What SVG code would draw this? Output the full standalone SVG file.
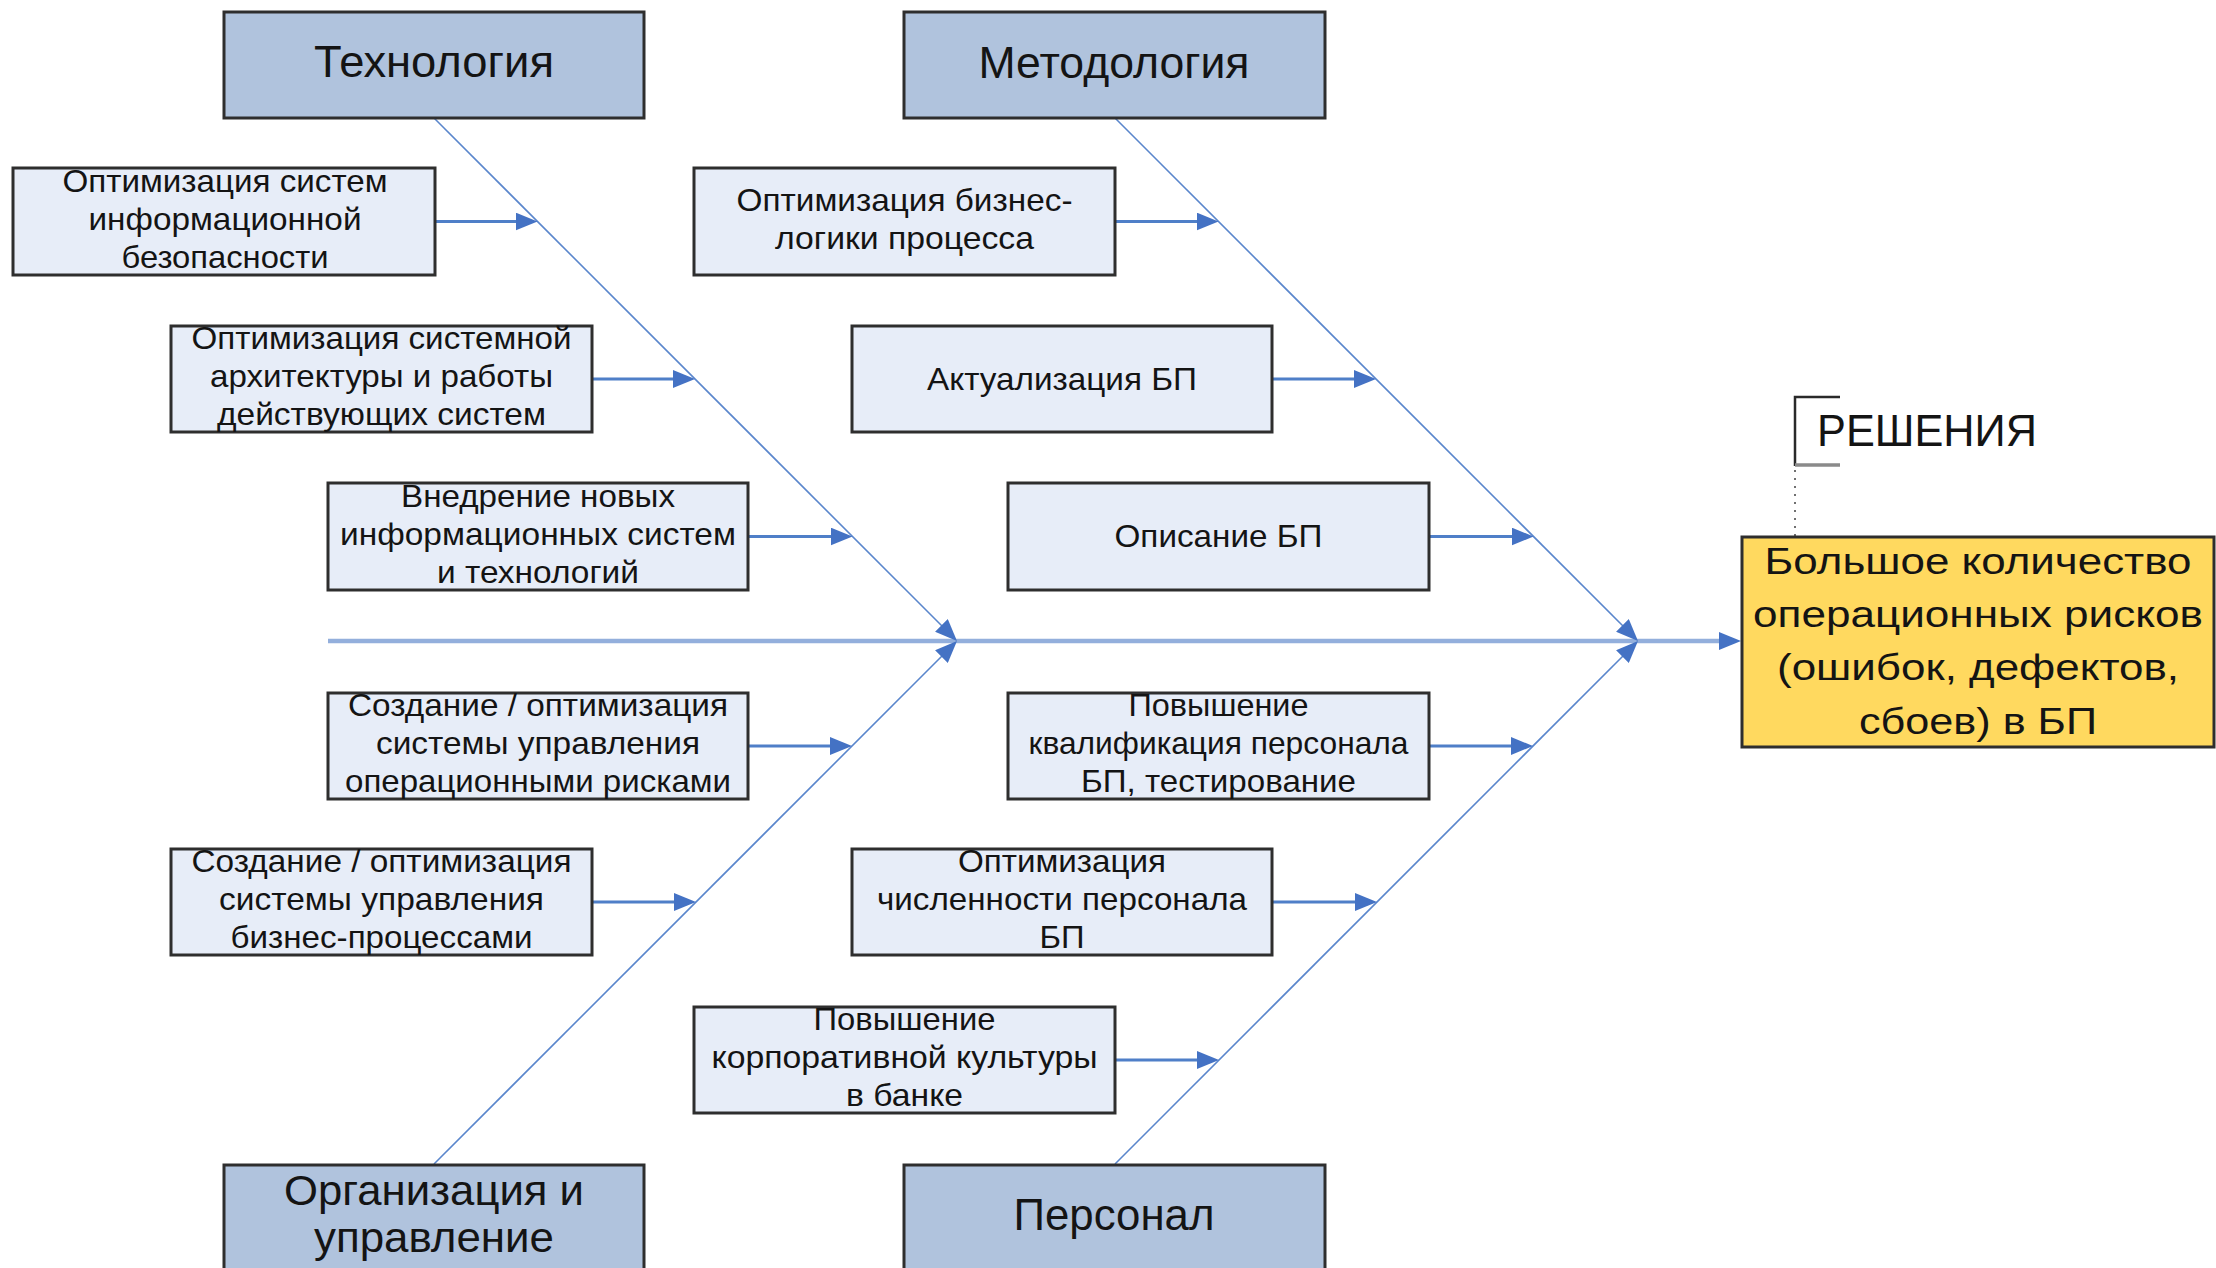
<svg xmlns="http://www.w3.org/2000/svg" width="2216" height="1268" viewBox="0 0 2216 1268">
  <defs>
    <style>
      .hdr { fill: #b0c3dd; stroke: #2e2e2e; stroke-width: 3; }
      .sub { fill: #e7edf8; stroke: #2e2e2e; stroke-width: 3; }
      .res { fill: #ffd95f; stroke: #2e2e2e; stroke-width: 3; }
      text { font-family: "Liberation Sans", Arial, sans-serif; fill: #141414; text-anchor: middle; }
      .h { font-size: 45px; }
      .s { font-size: 32px; }
      .y { font-size: 37px; }
      .bone { stroke: #5a86cc; stroke-width: 1.6; fill: none; }
      .branch { stroke: #4f7fc8; stroke-width: 3; fill: none; }
      .spine { stroke: #93afdc; stroke-width: 4.5; fill: none; }
    </style>
    <marker id="ah" viewBox="0 0 22 18" refX="10" refY="9" markerWidth="22" markerHeight="18" markerUnits="userSpaceOnUse" orient="auto">
      <path d="M0,0 L22,9 L0,18 z" fill="#4472c4"/>
    </marker>
  </defs>

  <!-- connectors: spine, diagonal bones and branch arrows -->
  <g id="connectors">
    <line class="spine" x1="328" y1="641" x2="1729" y2="641" marker-end="url(#ah)"/>
    <line class="bone" x1="434" y1="118" x2="948.5" y2="632.5" marker-end="url(#ah)"/>
    <line class="bone" x1="434" y1="1164" x2="948.5" y2="649.5" marker-end="url(#ah)"/>
    <line class="bone" x1="1115" y1="118" x2="1629.5" y2="632.5" marker-end="url(#ah)"/>
    <line class="bone" x1="1115" y1="1164" x2="1629.5" y2="649.5" marker-end="url(#ah)"/>

    <line class="branch" x1="435" y1="221.5" x2="525.5" y2="221.5" marker-end="url(#ah)"/>
    <line class="branch" x1="592" y1="379" x2="683" y2="379" marker-end="url(#ah)"/>
    <line class="branch" x1="748" y1="536.5" x2="840.5" y2="536.5" marker-end="url(#ah)"/>
    <line class="branch" x1="748" y1="746" x2="840" y2="746" marker-end="url(#ah)"/>
    <line class="branch" x1="592" y1="902" x2="684" y2="902" marker-end="url(#ah)"/>

    <line class="branch" x1="1115" y1="221.5" x2="1206.5" y2="221.5" marker-end="url(#ah)"/>
    <line class="branch" x1="1272" y1="379" x2="1364" y2="379" marker-end="url(#ah)"/>
    <line class="branch" x1="1429" y1="536.5" x2="1521.5" y2="536.5" marker-end="url(#ah)"/>
    <line class="branch" x1="1429" y1="746" x2="1521" y2="746" marker-end="url(#ah)"/>
    <line class="branch" x1="1272" y1="902" x2="1365" y2="902" marker-end="url(#ah)"/>
    <line class="branch" x1="1115" y1="1060" x2="1207" y2="1060" marker-end="url(#ah)"/>

    <!-- annotation bracket and its dotted leader -->
    <line x1="1795" y1="470" x2="1795" y2="536" stroke="#707070" stroke-width="2" stroke-dasharray="2 6"/>
  </g>

  <!-- category headers -->
  <g id="tech">
    <rect class="hdr" x="224" y="12" width="420" height="106"/>
    <text class="h" x="434" y="77" textLength="240" lengthAdjust="spacingAndGlyphs">Технология</text>
  </g>
  <g id="method">
    <rect class="hdr" x="904" y="12" width="421" height="106"/>
    <text class="h" x="1114" y="78" textLength="271" lengthAdjust="spacingAndGlyphs">Методология</text>
  </g>
  <g id="org">
    <rect class="hdr" x="224" y="1165" width="420" height="106"/>
    <text style="font-size:43px" x="434" y="1205" textLength="300" lengthAdjust="spacingAndGlyphs">Организация и</text>
    <text style="font-size:43px" x="434" y="1252" textLength="240" lengthAdjust="spacingAndGlyphs">управление</text>
  </g>
  <g id="staff">
    <rect class="hdr" x="904" y="1165" width="421" height="106"/>
    <text class="h" x="1114" y="1230" textLength="201" lengthAdjust="spacingAndGlyphs">Персонал</text>
  </g>

  <!-- technology causes -->
  <g id="t1">
    <rect class="sub" x="13" y="168" width="422" height="107"/>
    <text class="s" x="225" y="192" textLength="325" lengthAdjust="spacingAndGlyphs">Оптимизация систем</text>
    <text class="s" x="225" y="230" textLength="273" lengthAdjust="spacingAndGlyphs">информационной</text>
    <text class="s" x="225" y="268" textLength="207" lengthAdjust="spacingAndGlyphs">безопасности</text>
  </g>
  <g id="t2">
    <rect class="sub" x="171" y="326" width="421" height="106"/>
    <text class="s" x="381.5" y="349" textLength="380" lengthAdjust="spacingAndGlyphs">Оптимизация системной</text>
    <text class="s" x="381.5" y="387" textLength="343" lengthAdjust="spacingAndGlyphs">архитектуры и работы</text>
    <text class="s" x="381.5" y="425" textLength="329" lengthAdjust="spacingAndGlyphs">действующих систем</text>
  </g>
  <g id="t3">
    <rect class="sub" x="328" y="483" width="420" height="107"/>
    <text class="s" x="538" y="506.5" textLength="274" lengthAdjust="spacingAndGlyphs">Внедрение новых</text>
    <text class="s" x="538" y="544.5" textLength="396" lengthAdjust="spacingAndGlyphs">информационных систем</text>
    <text class="s" x="538" y="582.5" textLength="202" lengthAdjust="spacingAndGlyphs">и технологий</text>
  </g>

  <!-- organisation causes -->
  <g id="o1">
    <rect class="sub" x="328" y="693" width="420" height="106"/>
    <text class="s" x="538" y="716" textLength="380" lengthAdjust="spacingAndGlyphs">Создание / оптимизация</text>
    <text class="s" x="538" y="754" textLength="324" lengthAdjust="spacingAndGlyphs">системы управления</text>
    <text class="s" x="538" y="792" textLength="386" lengthAdjust="spacingAndGlyphs">операционными рисками</text>
  </g>
  <g id="o2">
    <rect class="sub" x="171" y="849" width="421" height="106"/>
    <text class="s" x="381.5" y="872" textLength="380" lengthAdjust="spacingAndGlyphs">Создание / оптимизация</text>
    <text class="s" x="381.5" y="910" textLength="325" lengthAdjust="spacingAndGlyphs">системы управления</text>
    <text class="s" x="381.5" y="948" textLength="302" lengthAdjust="spacingAndGlyphs">бизнес-процессами</text>
  </g>

  <!-- methodology causes -->
  <g id="m1">
    <rect class="sub" x="694" y="168" width="421" height="107"/>
    <text class="s" x="904.5" y="211" textLength="336" lengthAdjust="spacingAndGlyphs">Оптимизация бизнес-</text>
    <text class="s" x="904.5" y="249" textLength="259" lengthAdjust="spacingAndGlyphs">логики процесса</text>
  </g>
  <g id="m2">
    <rect class="sub" x="852" y="326" width="420" height="106"/>
    <text class="s" x="1062" y="390" textLength="270" lengthAdjust="spacingAndGlyphs">Актуализация БП</text>
  </g>
  <g id="m3">
    <rect class="sub" x="1008" y="483" width="421" height="107"/>
    <text class="s" x="1218.5" y="547" textLength="208" lengthAdjust="spacingAndGlyphs">Описание БП</text>
  </g>

  <!-- staff causes -->
  <g id="p1">
    <rect class="sub" x="1008" y="693" width="421" height="106"/>
    <text class="s" x="1218.5" y="716" textLength="180" lengthAdjust="spacingAndGlyphs">Повышение</text>
    <text class="s" x="1218.5" y="754" textLength="380" lengthAdjust="spacingAndGlyphs">квалификация персонала</text>
    <text class="s" x="1218.5" y="792" textLength="275" lengthAdjust="spacingAndGlyphs">БП, тестирование</text>
  </g>
  <g id="p2">
    <rect class="sub" x="852" y="849" width="420" height="106"/>
    <text class="s" x="1062" y="872" textLength="208" lengthAdjust="spacingAndGlyphs">Оптимизация</text>
    <text class="s" x="1062" y="910" textLength="370" lengthAdjust="spacingAndGlyphs">численности персонала</text>
    <text class="s" x="1062" y="948" textLength="45" lengthAdjust="spacingAndGlyphs">БП</text>
  </g>
  <g id="p3">
    <rect class="sub" x="694" y="1007" width="421" height="106"/>
    <text class="s" x="904.5" y="1030" textLength="182" lengthAdjust="spacingAndGlyphs">Повышение</text>
    <text class="s" x="904.5" y="1068" textLength="386" lengthAdjust="spacingAndGlyphs">корпоративной культуры</text>
    <text class="s" x="904.5" y="1106" textLength="117" lengthAdjust="spacingAndGlyphs">в банке</text>
  </g>

  <!-- effect -->
  <g id="effect">
    <rect class="res" x="1742" y="537" width="472" height="210"/>
    <text class="y" x="1978" y="574" textLength="427" lengthAdjust="spacingAndGlyphs">Большое количество</text>
    <text class="y" x="1978" y="627" textLength="450" lengthAdjust="spacingAndGlyphs">операционных рисков</text>
    <text class="y" x="1978" y="680" textLength="402" lengthAdjust="spacingAndGlyphs">(ошибок, дефектов,</text>
    <text class="y" x="1978" y="734" textLength="238" lengthAdjust="spacingAndGlyphs">сбоев) в БП</text>
  </g>

  <!-- annotation -->
  <g id="note">
    <path d="M1840,397 H1795 V466" fill="none" stroke="#2a2a2a" stroke-width="2.5"/>
    <line x1="1795" y1="465" x2="1840" y2="465" stroke="#8a8a8a" stroke-width="3.5"/>
    <text class="h" x="1817" y="446" style="text-anchor:start" textLength="220" lengthAdjust="spacingAndGlyphs">РЕШЕНИЯ</text>
  </g>
</svg>
